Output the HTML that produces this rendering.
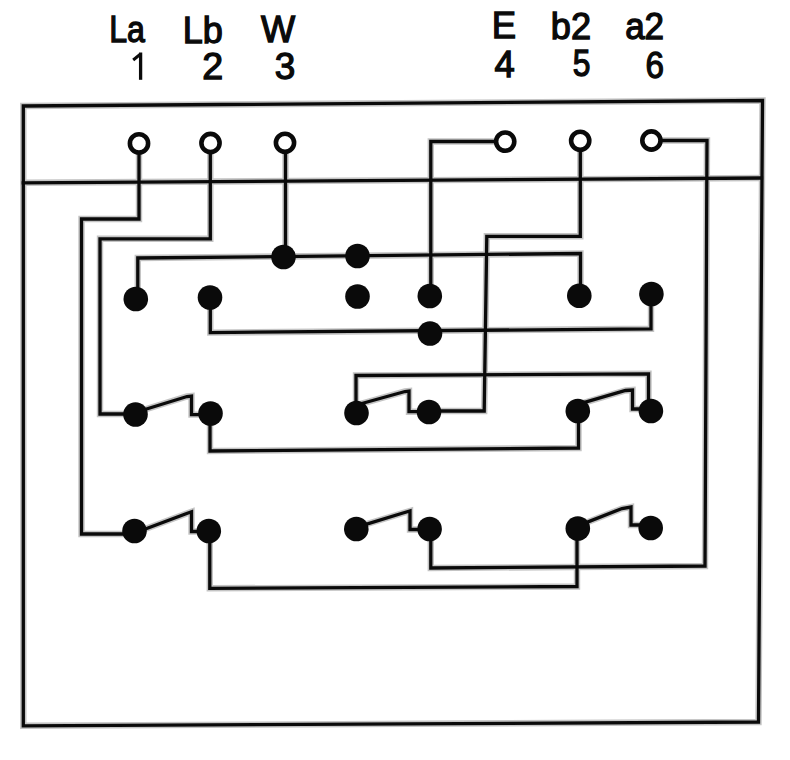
<!DOCTYPE html>
<html><head><meta charset="utf-8">
<style>
html,body{margin:0;padding:0;background:#fff;width:790px;height:760px;overflow:hidden}
svg{display:block}
text{font-family:"Liberation Sans",sans-serif;font-size:36.5px;fill:#0a0a0a;stroke:#0a0a0a;stroke-width:1.3px}
</style></head>
<body>
<svg width="790" height="760" viewBox="0 0 790 760">
<rect width="790" height="760" fill="#fff"/>
<g>
<text transform="matrix(0.8811 0 0 1.0000 109.21 42.27)">La</text>
<text transform="matrix(0.9884 0 0 1.0000 182.79 42.51)">Lb</text>
<text transform="matrix(0.9922 0 0 1.0000 261.10 42.16)">W</text>
<text transform="matrix(1.0313 0 0 1.0000 202.20 78.64)">2</text>
<text transform="matrix(1.0119 0 0 1.0000 274.63 78.64)">3</text>
<text transform="matrix(1.0000 0 0 1.0000 491.70 38.49)">E</text>
<text transform="matrix(0.9907 0 0 1.0000 550.80 39.41)">b2</text>
<text transform="matrix(0.9599 0 0 1.0000 625.14 39.12)">a2</text>
<text transform="matrix(0.9973 0 0 1.0000 494.49 76.56)">4</text>
<text transform="matrix(0.8718 0 0 1.0000 572.79 75.83)">5</text>
<text transform="matrix(0.9102 0 0 1.0000 645.48 78.46)">6</text>
<path d="M140.6 52.5V79.8" stroke="#0a0a0a" stroke-width="3.3" fill="none"/><path d="M140 54.5L133.2 60" stroke="#0a0a0a" stroke-width="3" fill="none"/>
</g>
<g fill="none" stroke="#c4c4c4" stroke-width="6.4" stroke-linejoin="miter" stroke-linecap="square">
<path d="M23.3 106 L762.5 100.5 L758.5 722 L23.3 725.8 Z"/>
<path d="M23.3 182.8 L761.5 178"/>
<path d="M139 152 V219 H81.5 V534 H130"/>
<path d="M210.3 152 V238.8 H100 V414 H130"/>
<path d="M285.5 152 V257"/>
<path d="M137.8 296 V258 L580.5 253.5 V296"/>
<path d="M495 141.5 H430.8 V296"/>
<path d="M580.3 151 V236.3 H486.8 L484.2 411 H435"/>
<path d="M660 140.5 H707 L705 566 L430.8 568 V530"/>
<path d="M210.3 297 V332.6 L651 328.8 V294"/>
<path d="M356 412 V375.5 L648.5 373.8 V410"/>
<path d="M210 413 V451 L578.5 448 V411"/>
<path d="M209.8 531 V588.3 L577 586.5 V529"/>

<path d="M140 411 L187 396.5 L191.5 396 V414.6 H204"/>
<path d="M360 404 L405 391.5 L409 391 V411.7 H424"/>
<path d="M582 403.2 L625.5 390.5 L632.5 390 V409 H645"/>
<path d="M140 531 L186 513.7 L191.5 511.8 V531.5 H203"/>
<path d="M361 525.8 L403 513 L410 511 V529.5 H424"/>
<path d="M583 523.9 L622 508.5 L631 507 V525 H645"/>
</g>
<g fill="none" stroke="#0a0a0a" stroke-width="3.3" stroke-linejoin="miter" stroke-linecap="square">
<path d="M23.3 106 L762.5 100.5 L758.5 722 L23.3 725.8 Z"/>
<path d="M23.3 182.8 L761.5 178"/>
<path d="M139 152 V219 H81.5 V534 H130"/>
<path d="M210.3 152 V238.8 H100 V414 H130"/>
<path d="M285.5 152 V257"/>
<path d="M137.8 296 V258 L580.5 253.5 V296"/>
<path d="M495 141.5 H430.8 V296"/>
<path d="M580.3 151 V236.3 H486.8 L484.2 411 H435"/>
<path d="M660 140.5 H707 L705 566 L430.8 568 V530"/>
<path d="M210.3 297 V332.6 L651 328.8 V294"/>
<path d="M356 412 V375.5 L648.5 373.8 V410"/>
<path d="M210 413 V451 L578.5 448 V411"/>
<path d="M209.8 531 V588.3 L577 586.5 V529"/>
</g>
<g fill="none" stroke="#0a0a0a" stroke-width="3.3" stroke-linejoin="miter" stroke-linecap="butt">
<path d="M140 411 L187 396.5 L191.5 396 V414.6 H204"/>
<path d="M360 404 L405 391.5 L409 391 V411.7 H424"/>
<path d="M582 403.2 L625.5 390.5 L632.5 390 V409 H645"/>
<path d="M140 531 L186 513.7 L191.5 511.8 V531.5 H203"/>
<path d="M361 525.8 L403 513 L410 511 V529.5 H424"/>
<path d="M583 523.9 L622 508.5 L631 507 V525 H645"/>
</g>
<g fill="#fff" stroke="#0a0a0a" stroke-width="4.6">
<circle cx="139" cy="143.4" r="9.1"/>
<circle cx="210.5" cy="143" r="9.1"/>
<circle cx="285" cy="142.8" r="9.1"/>
<circle cx="505.2" cy="141.6" r="9.1"/>
<circle cx="580.2" cy="140.8" r="9.1"/>
<circle cx="651.4" cy="140.5" r="9.1"/>
</g>
<g fill="#0a0a0a">
<circle cx="283.5" cy="257" r="12.3"/>
<circle cx="357.5" cy="256" r="12.3"/>
<circle cx="135.8" cy="299" r="12.3"/>
<circle cx="210" cy="297.5" r="12.3"/>
<circle cx="357.5" cy="296.5" r="12.3"/>
<circle cx="429.8" cy="296" r="12.3"/>
<circle cx="579.3" cy="295.8" r="12.3"/>
<circle cx="651.4" cy="294" r="12.3"/>
<circle cx="430" cy="333.5" r="12.3"/>
<circle cx="135.5" cy="414.5" r="12.3"/>
<circle cx="210.5" cy="413.5" r="12.3"/>
<circle cx="356.5" cy="413" r="12.3"/>
<circle cx="429" cy="412" r="12.3"/>
<circle cx="577.8" cy="411" r="12.3"/>
<circle cx="650.9" cy="411" r="12.3"/>
<circle cx="134.5" cy="531" r="12.3"/>
<circle cx="208.8" cy="531" r="12.3"/>
<circle cx="356.3" cy="529" r="12.3"/>
<circle cx="429.6" cy="529" r="12.3"/>
<circle cx="577.8" cy="528.5" r="12.3"/>
<circle cx="650.7" cy="528" r="12.3"/>
</g>

</svg>
</body></html>
